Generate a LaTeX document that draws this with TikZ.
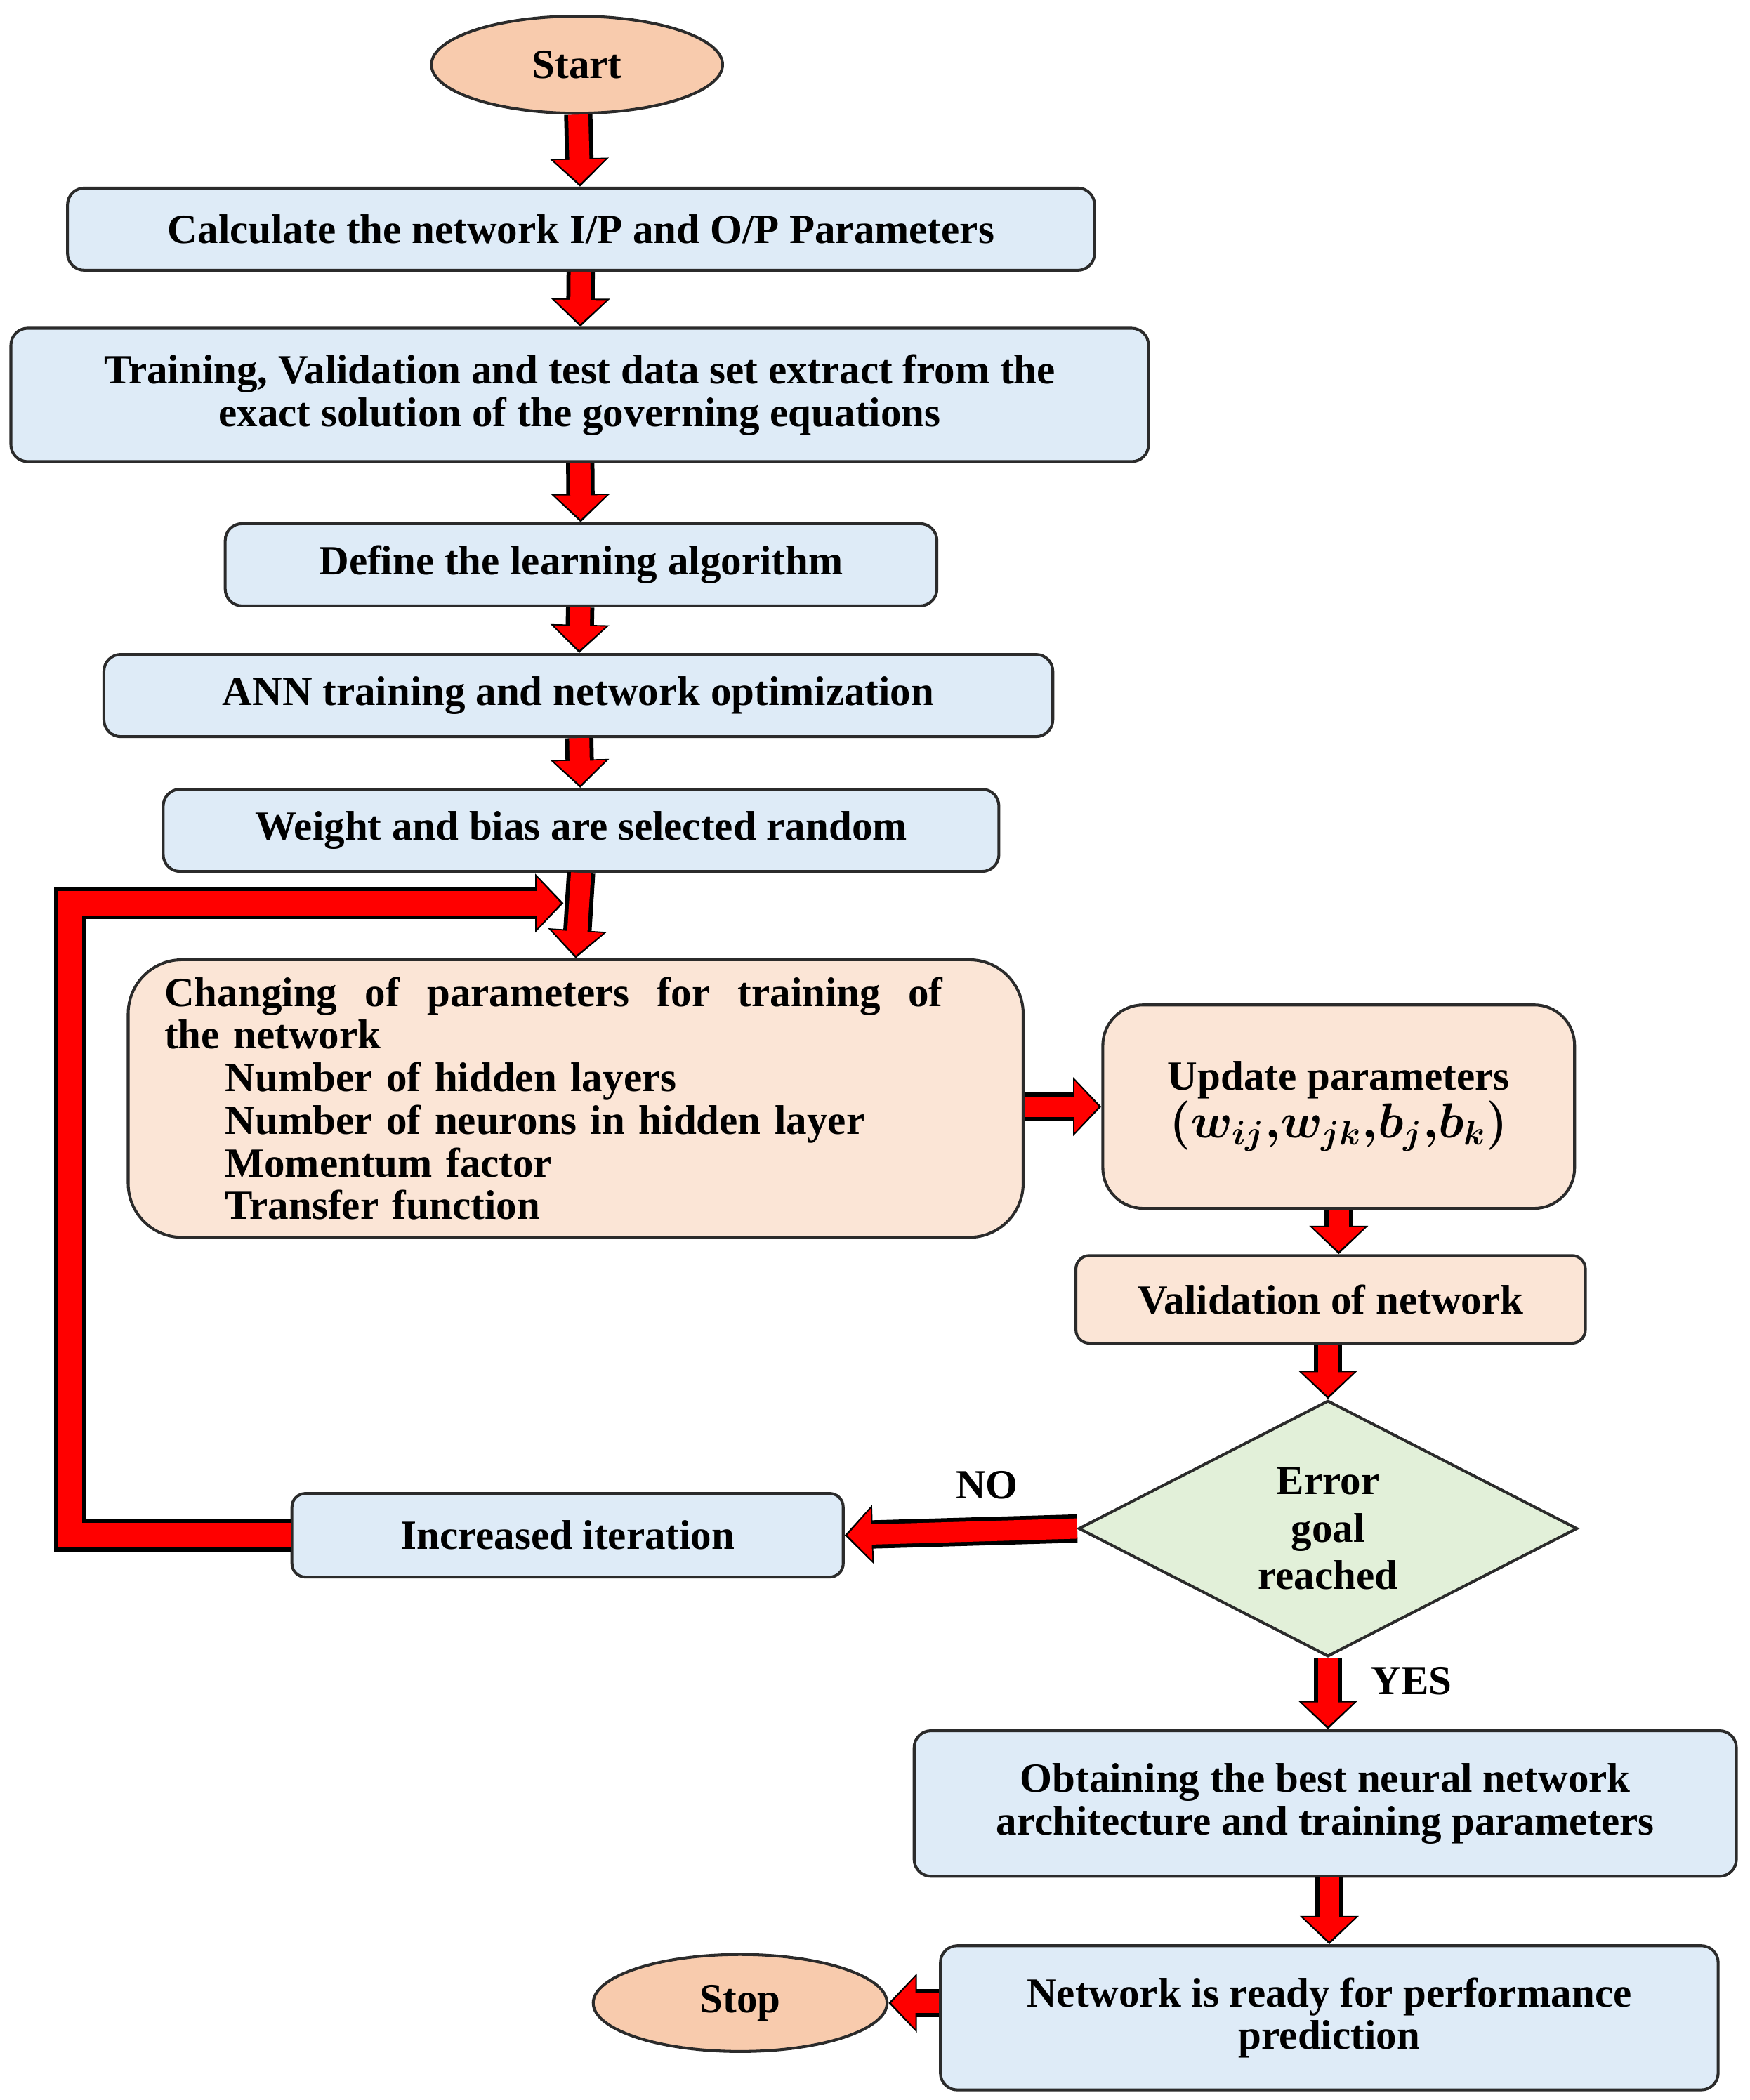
\documentclass[tikz,border=0pt]{standalone}
\usepackage{fontspec}
\setmainfont{Liberation Serif}
\usetikzlibrary{shapes.geometric,arrows.meta}
\definecolor{bl}{HTML}{DEEBF7}
\definecolor{pe}{HTML}{F8CBAD}
\definecolor{pl}{HTML}{FBE5D6}
\definecolor{gr}{HTML}{E2F0D9}
\definecolor{ln}{HTML}{2B2B2B}
\newcommand{\updmath}{\mbox{\fontsize{20}{22}\selectfont\boldmath$\left(\vphantom{\Big|}w_{ij}{,}w_{jk}{,}b_j{,}b_k\right)$}}
\begin{document}
\begin{tikzpicture}[x=0.02cm,y=-0.02cm,
  font=\fontsize{17.5}{20}\selectfont\bfseries,
  box/.style={draw=ln,line width=1.2pt,rounded corners=0.25cm,fill=bl,inner sep=0pt,align=center},
  pbox/.style={box,fill=pl},
  oval/.style={draw=ln,line width=1.2pt,ellipse,fill=pe,inner sep=0pt},
  arr/.style={draw=black,line width=0.42cm,-{Triangle[width=0.85cm,length=0.42cm]}},
  arri/.style={draw=red,line width=0.3cm,-{Triangle[width=0.75cm,length=0.36cm]},shorten >=0.04cm},
]
\useasboundingbox (0,0) rectangle (1298,1558);
\node[oval,minimum width=4.32cm,minimum height=1.44cm] (start) at (428,48) {Start};
\node[box,minimum width=15.24cm,minimum height=1.22cm] (calc) at (431,170) {Calculate the network I/P and O/P Parameters};
\node[box,minimum width=16.88cm,minimum height=1.98cm] (train) at (430,293) {Training, Validation and test data set extract from the\\[-2pt] exact solution of the governing equations};
\node[box,minimum width=10.56cm,minimum height=1.22cm] (def) at (431,419) {Define the learning algorithm};
\node[box,minimum width=14.08cm,minimum height=1.22cm] (ann) at (429,516) {ANN training and network optimization};
\node[box,minimum width=12.4cm,minimum height=1.22cm] (wt) at (431,616) {Weight and bias are selected random};
\node[pbox,rounded corners=0.8cm,minimum width=13.28cm,minimum height=4.12cm,text width=12.2cm,align=left] (chg) at (427,815) {Changing\ \ of\ \ parameters\ \ for\ \ training\ \ of\\[-2pt] the network\\[-2pt]
\hspace*{0.9cm}Number of hidden layers\\[-2pt]\hspace*{0.9cm}Number of neurons in hidden layer\\[-2pt]\hspace*{0.9cm}Momentum factor\\[-2pt]\hspace*{0.9cm}Transfer function};
\node[pbox,rounded corners=0.6cm,minimum width=7cm,minimum height=3.02cm] (upd) at (993,821) {Update parameters\\ \updmath};
\node[pbox,rounded corners=0.2cm,minimum width=7.56cm,minimum height=1.3cm] (val) at (987,964) {Validation\ of network};
\node[draw=ln,line width=1.2pt,diamond,fill=gr,aspect=1.95,inner sep=0pt,minimum width=7.4cm,minimum height=3.8cm,align=center] (dec) at (985,1134) {Error\\ goal\\ reached};
\node[box,rounded corners=0.2cm,minimum width=8.18cm,minimum height=1.24cm] (inc) at (421,1139) {Increased\ iteration};
\node[box,minimum width=12.2cm,minimum height=2.16cm] (obt) at (983,1338) {Obtaining the best neural network\\[-2pt] architecture\ and training parameters};
\node[box,minimum width=11.54cm,minimum height=2.14cm] (net) at (986,1497) {Network\ is ready\ for performance\\[-2pt] prediction};
\node[oval,minimum width=4.36cm,minimum height=1.44cm] (stop) at (549,1486) {Stop};
\node (no) at (732,1102) {NO};
\node (yes) at (1047,1247) {YES};
\coordinate (c1) at (52,1139);
\coordinate (c2) at (52,670);
\coordinate (c3) at (418,670);
\def\conn#1{\path[arr] #1; \path[arri] #1;}
\conn{(start) -- (calc)}
\conn{(calc) -- (train)}
\conn{(train) -- (def)}
\conn{(def) -- (ann)}
\conn{(ann) -- (wt)}
\conn{(wt.south) -- (chg.north)}
\conn{(chg.east |- upd.west) -- (upd.west)}
\conn{(upd) -- (upd.south |- val.north)}
\conn{(val.south -| dec.north) -- (dec.north)}
\conn{(dec.west) -- (inc.east)}
\conn{(dec.south) -- (dec.south |- obt.north)}
\conn{(obt.south -| net.north) -- (net.north)}
\conn{(net.west |- stop.east) -- (stop.east)}
\path[draw=black,line width=0.48cm,-{Triangle[width=0.85cm,length=0.42cm]}] (inc.west) -- (c1) -- (c2) -- (c3);
\path[draw=red,line width=0.36cm,-{Triangle[width=0.75cm,length=0.36cm]},shorten >=0.04cm] (inc.west) -- (c1) -- (c2) -- (c3);
\end{tikzpicture}
\end{document}
